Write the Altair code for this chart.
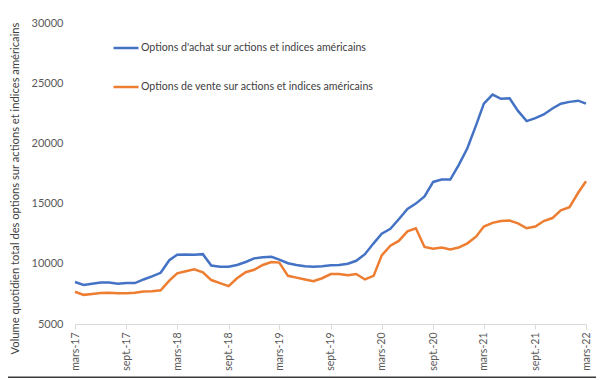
import altair as alt
import pandas as pd

CALL = "Options d'achat sur actions et indices américains"
PUT = "Options de vente sur actions et indices américains"
Y_TITLE = "Volume quotidien total des options sur actions et indices américains"

# monthly points, mars-17 .. mars-22
dates = [d.strftime("%Y-%m-%d") for d in pd.date_range("2017-03-01", "2022-03-01", freq="MS")]

calls = [8490, 8250, 8350, 8450, 8450, 8350, 8400, 8400, 8700, 8950,
         9250, 10300, 10750, 10780, 10750, 10800, 9850, 9760, 9750, 9900,
         10150, 10450, 10550, 10580, 10350, 10050, 9900, 9800, 9760, 9800,
         9880, 9900, 10000, 10250, 10800, 11700, 12500, 12900, 13700, 14550,
         15000, 15600, 16800, 17000, 17000, 18200, 19600, 21500, 23300, 24050,
         23700, 23750, 22700, 21850, 22100, 22400, 22900, 23300, 23450, 23550,
         23300]

puts = [7680, 7420, 7500, 7580, 7600, 7550, 7550, 7600, 7700, 7720,
        7800, 8600, 9210, 9380, 9550, 9300, 8650, 8400, 8150, 8800,
        9300, 9500, 9900, 10150, 10100, 9000, 8850, 8700, 8550, 8800,
        9150, 9150, 9050, 9150, 8700, 9000, 10700, 11500, 11900, 12700,
        12950, 11400, 11250, 11350, 11200, 11350, 11700, 12250, 13100, 13400,
        13550, 13600, 13360, 12950, 13100, 13550, 13800, 14450, 14700, 15900,
        16850]

y_ticks = [5000, 10000, 15000, 20000, 25000, 30000]
x_tick_years_months = [(2017, 3), (2017, 9), (2018, 3), (2018, 9), (2019, 3), (2019, 9),
                       (2020, 3), (2020, 9), (2021, 3), (2021, 9), (2022, 3)]

df = pd.DataFrame({
    "date": dates * 2,
    "value": calls + puts,
    "serie": [CALL] * len(dates) + [PUT] * len(dates),
})

FONT = "Lato"
x_vals = [alt.DateTime(year=y, month=m, date=1, utc=True) for y, m in x_tick_years_months]

lines = alt.Chart(df).mark_line(strokeWidth=2.5).encode(
    x=alt.X(
        "date:T",
        scale=alt.Scale(type="utc", domain=[x_vals[0], x_vals[-1]]),
        axis=alt.Axis(
            values=x_vals,
            labelExpr="(utcmonth(datum.value) == 2 ? 'mars-' : 'sept.-') + utcFormat(datum.value, '%y')",
            labelAngle=-90,
            labelFontSize=10.5,
            labelColor="#595959",
            labelFont=FONT,
            domainColor="#d9d9d9",
            tickColor="#d9d9d9",
            tickSize=5,
            labelPadding=3,
            grid=False,
        ),
        title=None,
    ),
    y=alt.Y(
        "value:Q",
        scale=alt.Scale(domain=[5000, 30000]),
        axis=alt.Axis(
            values=y_ticks,
            format="d",
            domain=False,
            ticks=False,
            labelPadding=12,
            labelFontSize=11,
            labelColor="#595959",
            labelFont=FONT,
            grid=False,
            titleFont=FONT,
            titleFontSize=11.2,
            titleFontWeight="normal",
            titleColor="#404040",
            titlePadding=11,
            titleY=165,
        ),
        title=Y_TITLE,
    ),
    color=alt.Color(
        "serie:N",
        scale=alt.Scale(domain=[CALL, PUT], range=["#4472C4", "#ED7D31"]),
        title=None,
        legend=alt.Legend(
            orient="none",
            legendX=37,
            legendY=11,
            symbolType="stroke",
            symbolSize=625,
            symbolStrokeWidth=2.5,
            labelFont=FONT,
            labelFontSize=10.6,
            labelColor="#404040",
            labelLimit=500,
            labelOffset=1,
            rowPadding=19,
        ),
    ),
)

frame = alt.Chart(pd.DataFrame({"a": [0]})).mark_rule(color="#3a3a3a", strokeWidth=2).encode(
    x=alt.value(-75), x2=alt.value(530), y=alt.value(354.5)
)

chart = alt.layer(lines, frame).properties(
    width=511,
    height=301,
    padding={"left": 67, "top": 15, "right": 10, "bottom": 54},
    autosize=alt.AutoSizeParams(type="none"),
).configure_view(stroke=None)

chart.save("out.html", embed_options={"renderer": "svg", "actions": False})
